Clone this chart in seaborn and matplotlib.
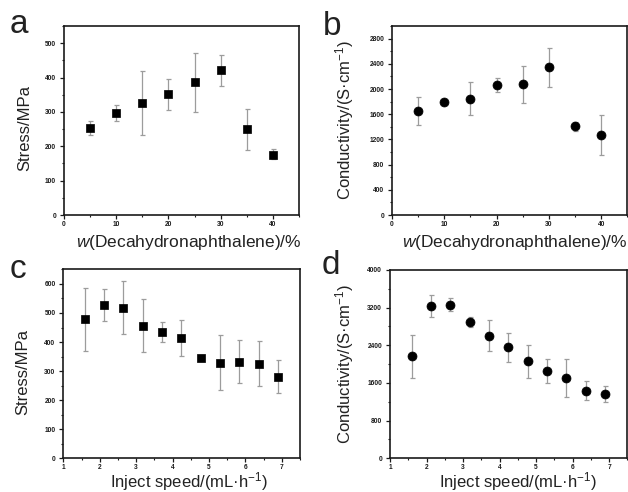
import matplotlib
matplotlib.use("Agg")
import matplotlib.pyplot as plt
from matplotlib.ticker import MultipleLocator
import seaborn as sns
import pandas as pd

# ---------------- data ----------------
w_pct = [5, 10, 15, 20, 25, 30, 35, 40]
stress_a = [253, 296, 325, 351, 386, 421, 249, 176]
stress_a_hi = [274, 319, 419, 396, 471, 466, 309, 193]
stress_a_lo = [233, 273, 232, 307, 299, 376, 189, 162]

cond_b = [1647, 1790, 1843, 2060, 2074, 2343, 1406, 1274]
cond_b_hi = [1869, 1815, 2106, 2169, 2365, 2654, 1474, 1595]
cond_b_lo = [1432, 1765, 1590, 1953, 1780, 2025, 1326, 952]

speed = [1.59, 2.12, 2.65, 3.18, 3.71, 4.24, 4.77, 5.30, 5.83, 6.36, 6.89]
stress_c = [478, 527, 518, 456, 434, 414, 345, 328, 333, 325, 281]
stress_c_hi = [587, 582, 609, 548, 468, 475, 357, 423, 407, 403, 339]
stress_c_lo = [369, 474, 428, 367, 400, 351, 335, 234, 259, 248, 226]

cond_d = [2168, 3239, 3260, 2894, 2605, 2358, 2062, 1859, 1703, 1437, 1365]
cond_d_hi = [2620, 3472, 3394, 3000, 2929, 2662, 2409, 2113, 2105, 1640, 1534]
cond_d_lo = [1711, 3007, 3127, 2789, 2282, 2041, 1711, 1606, 1302, 1238, 1196]

xlab_w = "$w$(Decahydronaphthalene)/%"
xlab_s = "Inject speed/(mL\u00b7h$^{-1}$)"
ylab_stress = "Stress/MPa"
ylab_cond = "Conductivity/(S\u00b7cm$^{-1}$)"

# ---------------- style ----------------
sns.set_theme(style="ticks")
plt.rcParams["font.family"] = ["Liberation Sans", "DejaVu Sans"]
plt.rcParams["mathtext.fontset"] = "custom"
plt.rcParams["mathtext.rm"] = "Liberation Sans"
plt.rcParams["mathtext.it"] = "Liberation Sans:italic"
plt.rcParams["mathtext.bf"] = "Liberation Sans:bold"

fig = plt.figure(figsize=(6.28, 4.92), dpi=100)
fig.patch.set_facecolor("white")

positions = {
    "a": [0.1019, 0.563, 0.3742, 0.384],
    "b": [0.6242, 0.563, 0.3750, 0.384],
    "c": [0.1008, 0.0685, 0.3770, 0.384],
    "d": [0.6210, 0.0685, 0.3780, 0.383],
}

panels = [
    dict(key="a", x=w_pct, y=stress_a, hi=stress_a_hi, lo=stress_a_lo, marker="s",
         xlim=(0, 45), xmaj=10, xmin=5, ylim=(0, 550), ymaj=100, ymin=50,
         xlabel=xlab_w, xfs=12.5, ylabel=ylab_stress, ylc=(-0.135, 0.46), xlc=(0.532, -0.168),
         letter_xy=(10, 33)),
    dict(key="b", x=w_pct, y=cond_b, hi=cond_b_hi, lo=cond_b_lo, marker="o",
         xlim=(0, 45), xmaj=10, xmin=5, ylim=(0, 3000), ymaj=400, ymin=200,
         xlabel=xlab_w, xfs=12.5, ylabel=ylab_cond, ylc=(-0.154, 0.5), xlc=(0.522, -0.168),
         letter_xy=(323, 35)),
    dict(key="c", x=speed, y=stress_c, hi=stress_c_hi, lo=stress_c_lo, marker="s",
         xlim=(1, 7.5), xmaj=1, xmin=0.5, ylim=(0, 650), ymaj=100, ymin=50,
         xlabel=xlab_s, xfs=12, ylabel=ylab_stress, ylc=(-0.14, 0.455), xlc=(0.531, -0.156),
         letter_xy=(10, 278)),
    dict(key="d", x=speed, y=cond_d, hi=cond_d_hi, lo=cond_d_lo, marker="o",
         xlim=(1, 7.5), xmaj=1, xmin=0.5, ylim=(0, 4000), ymaj=800, ymin=400,
         xlabel=xlab_s, xfs=12, ylabel=ylab_cond, ylc=(-0.144, 0.5), xlc=(0.539, -0.156),
         letter_xy=(322, 274)),
]

for p in panels:
    ax = fig.add_axes(positions[p["key"]])
    df = pd.DataFrame({"x": p["x"], "y": p["y"]})
    lo_err = [yy - l for yy, l in zip(p["y"], p["lo"])]
    hi_err = [h - yy for yy, h in zip(p["y"], p["hi"])]
    ax.errorbar(p["x"], p["y"], yerr=[lo_err, hi_err], fmt="none",
                ecolor="#9c9c9c", elinewidth=0.9, capsize=1.8, capthick=0.9, zorder=2)
    sns.scatterplot(data=df, x="x", y="y", marker=p["marker"], color="black",
                    edgecolor="black", s=36 if p["marker"] == "s" else 42,
                    linewidth=0.5, ax=ax, zorder=3, legend=False)
    ax.set_xlim(*p["xlim"])
    ax.set_ylim(*p["ylim"])
    ax.xaxis.set_major_locator(MultipleLocator(p["xmaj"]))
    ax.xaxis.set_minor_locator(MultipleLocator(p["xmin"]))
    ax.yaxis.set_major_locator(MultipleLocator(p["ymaj"]))
    ax.yaxis.set_minor_locator(MultipleLocator(p["ymin"]))
    for s in ax.spines.values():
        s.set_visible(True)
        s.set_linewidth(1.2)
        s.set_color("#1a1a1a")
    ax.tick_params(which="major", direction="out", length=2.6, width=0.9,
                   labelsize=4.8, colors="#1a1a1a")
    ax.tick_params(which="minor", direction="out", length=1.4, width=0.8, colors="#1a1a1a")
    ax.tick_params(axis="x", which="major", pad=1.5)
    ax.tick_params(axis="y", which="major", pad=3)
    for lbl in ax.get_xticklabels() + ax.get_yticklabels():
        lbl.set_fontweight("bold")
    ax.set_xlabel(p["xlabel"], fontsize=p["xfs"], color="#222222", va="baseline")
    ax.set_ylabel(p["ylabel"], fontsize=12, color="#222222")
    ax.xaxis.set_label_coords(*p["xlc"])
    ax.yaxis.set_label_coords(*p["ylc"])
    ax.set_facecolor("white")
    lx, ly = p["letter_xy"]
    fig.text(lx / 628, 1 - ly / 492, p["key"], fontsize=24, color="#222222",
             ha="left", va="baseline")

fig.savefig("out.png", dpi=100, facecolor="white")
